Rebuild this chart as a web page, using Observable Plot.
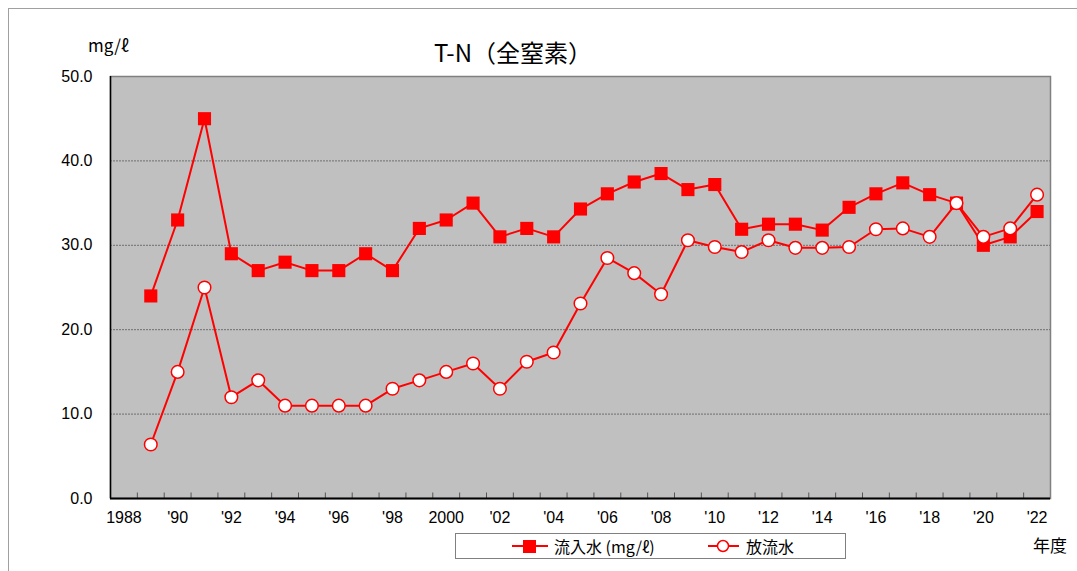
<!DOCTYPE html>
<html>
<head>
<meta charset="utf-8">
<script src="https://cdn.jsdelivr.net/npm/d3@7"></script>
<script src="https://cdn.jsdelivr.net/npm/@observablehq/plot@0.6"></script>
<style>
  body { margin: 0; background: #fff; }
  #wrap { position: relative; width: 1077px; height: 571px; overflow: hidden;
          font-family: "Liberation Sans", "Noto Sans CJK JP", sans-serif; color: #000; }
  #wrap svg.plot { position: absolute; left: 0; top: 0; }
  .abs { position: absolute; white-space: nowrap; line-height: 1; }
  #border { position: absolute; left: 8px; top: 8px; width: 1069px; height: 563px;
            border-top: 1px solid #a0a0a0; border-left: 1px solid #a0a0a0; box-sizing: border-box; }
  #title { left: 0; width: 1026px; top: 40px; text-align: center; font-size: 24px;
           font-family: "Noto Sans CJK JP", sans-serif; }
  #unit { left: 88px; top: 36px; font-size: 17px; font-family: "Noto Sans CJK JP", sans-serif; }
  #nendo { left: 1033px; top: 536px; font-size: 17px; font-family: "Noto Sans CJK JP", sans-serif; }
  #legend { position: absolute; left: 455px; top: 533px; width: 391px; height: 26px;
            border: 1px solid #808080; box-sizing: border-box; background: #fff;
            font-family: "Noto Sans CJK JP", sans-serif; font-size: 16px; }
  #legend .item { position: absolute; top: 0; height: 24px; display: flex; align-items: center; }
  #legend svg { display: block; }
</style>
</head>
<body>
<div id="wrap">
  <div id="border"></div>
  <div class="abs" id="title">T-N（全窒素）</div>
  <div class="abs" id="unit">mg/ℓ</div>
  <div class="abs" id="nendo">年度</div>
  <div id="legend">
    <div class="item" style="left:55px">
      <svg width="38" height="16"><line x1="1" y1="8" x2="37" y2="8" stroke="red" stroke-width="2"/><rect x="12" y="2" width="13" height="13" fill="red"/></svg>
      <span style="margin-left:5px">流入水 (mg/ℓ)</span>
    </div>
    <div class="item" style="left:251px">
      <svg width="33" height="16"><line x1="1" y1="8" x2="32" y2="8" stroke="red" stroke-width="2"/><circle cx="16" cy="8" r="5.5" fill="#fff" stroke="red" stroke-width="1.5"/></svg>
      <span style="margin-left:6px">放流水</span>
    </div>
  </div>
</div>
<script>
const years = [1989,1990,1991,1992,1993,1994,1995,1996,1997,1998,1999,2000,2001,2002,2003,2004,2005,2006,2007,2008,2009,2010,2011,2012,2013,2014,2015,2016,2017,2018,2019,2020,2021,2022];
const inflow = [24.0,33.0,45.0,29.0,27.0,28.0,27.0,27.0,29.0,27.0,32.0,33.0,35.0,31.0,32.0,31.0,34.3,36.1,37.5,38.5,36.6,37.2,31.9,32.5,32.5,31.8,34.5,36.1,37.4,36.0,35.0,30.0,31.0,34.0];
const effluent = [6.4,15.0,25.0,12.0,14.0,11.0,11.0,11.0,11.0,13.0,14.0,15.0,16.0,13.0,16.2,17.3,23.1,28.5,26.7,24.2,30.6,29.8,29.2,30.6,29.7,29.7,29.8,31.9,32.0,31.0,35.0,31.0,32.0,36.0];
const xTickYears = [1988,1990,1992,1994,1996,1998,2000,2002,2004,2006,2008,2010,2012,2014,2016,2018,2020,2022];
const yTicks = [0,10,20,30,40,50];
const gridValues = [10,20,30,40];

const inData = years.map((y,i) => ({year: y, value: inflow[i]}));
const outData = years.map((y,i) => ({year: y, value: effluent[i]}));
const firstYear = 1988, lastYear = 2022;
const boundaries = d3.range(firstYear - 0.5, lastYear + 1, 1);

const fmtYear = y => (y === 1988 || y === 2000) ? String(y) : "'" + String(y % 100).padStart(2, "0");

const chart = Plot.plot({
  width: 1077,
  height: 571,
  marginLeft: 110,
  marginRight: 27,
  marginTop: 76,
  marginBottom: 73,
  style: { fontSize: "16px", fontFamily: "'Liberation Sans', 'Noto Sans CJK JP', sans-serif", background: "transparent", color: "#000" },
  x: { type: "linear", domain: [firstYear - 0.5, lastYear + 0.5], axis: null },
  y: { domain: [0, 50], axis: null },
  marks: [
    Plot.frame({ fill: "#c0c0c0", stroke: "#808080", strokeWidth: 1.5 }),
    Plot.ruleY(gridValues, { stroke: "#6e6e6e", strokeDasharray: "2,1", strokeWidth: 1 }),
    Plot.ruleX(boundaries.slice(1, -1), { x: d => d, y1: 0, y2: 0.65, stroke: "#555", strokeWidth: 1 }),
    Plot.ruleX([firstYear - 0.5], { stroke: "#000", strokeWidth: 1.5 }),
    Plot.ruleY([0], { stroke: "#000", strokeWidth: 2 }),
    Plot.axisX(xTickYears, { tickSize: 0, tickPadding: 13, tickFormat: fmtYear, label: null, fontSize: 16 }),
    Plot.axisY(yTicks, { tickSize: 0, tickPadding: 18, tickFormat: d3.format(".1f"), label: null, fontSize: 16 }),
    Plot.line(inData, { x: "year", y: "value", stroke: "red", strokeWidth: 2 }),
    Plot.line(outData, { x: "year", y: "value", stroke: "red", strokeWidth: 2 }),
    Plot.dot(inData, { x: "year", y: "value", symbol: "square", r: 7.4, fill: "red", stroke: "none" }),
    Plot.dot(outData, { x: "year", y: "value", symbol: "circle", r: 6.3, fill: "#fff", stroke: "red", strokeWidth: 1.5 })
  ]
});
chart.classList.add("plot");
document.getElementById("wrap").prepend(chart);
</script>
</body>
</html>
